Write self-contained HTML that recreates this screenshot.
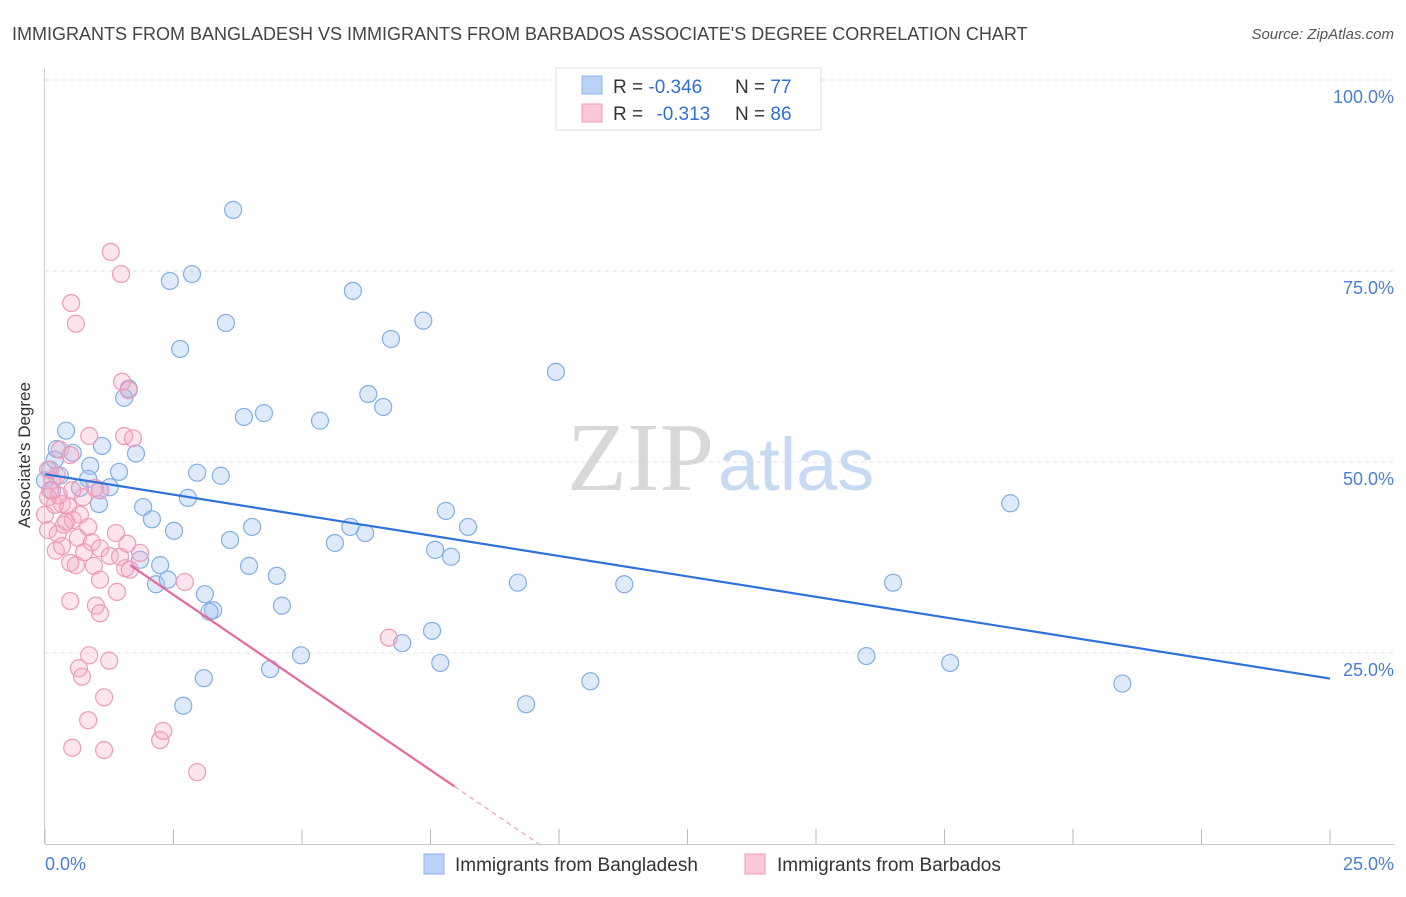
<!DOCTYPE html>
<html><head><meta charset="utf-8">
<style>
body{margin:0;background:#fff;font-family:"Liberation Sans",sans-serif;}
svg text{font-family:"Liberation Sans",sans-serif;}
</style></head>
<body>
<svg id="chart" width="1406" height="892" xmlns="http://www.w3.org/2000/svg">
<text x="12" y="40" font-size="18" fill="#444">IMMIGRANTS FROM BANGLADESH VS IMMIGRANTS FROM BARBADOS ASSOCIATE'S DEGREE CORRELATION CHART</text>
<text x="1394" y="39" font-size="15" fill="#555" text-anchor="end" font-style="italic">Source: ZipAtlas.com</text>
<g id="grid"></g>
<text x="714" y="490" font-size="98" fill="#d8d8d8" text-anchor="end" style="font-family:'Liberation Serif',serif">ZIP</text>
<text x="718" y="490" font-size="74" fill="#c8daf2">atlas</text>
<g id="pts"></g>
<g id="trend"></g>
<text x="30" y="455" font-size="17" fill="#333" text-anchor="middle" transform="rotate(-90 30 455)">Associate's Degree</text>
<text x="45" y="870" font-size="18" fill="#4a7fd6">0.0%</text>
<text x="1394" y="870" font-size="18" fill="#4a7fd6" text-anchor="end">25.0%</text>
<g>
<rect x="556" y="68" width="265" height="62" fill="#fff" stroke="#ddd"/>
<rect x="582" y="76" width="20" height="18" fill="#b9d2f5" stroke="#8ab4e8"/>
<rect x="582" y="104" width="20" height="18" fill="#fbc8d8" stroke="#f09ab8"/>
<text x="613" y="93" font-size="19" fill="#333">R = <tspan fill="#2f6fd6">-0.346</tspan><tspan x="735">N = </tspan><tspan fill="#2f6fd6">77</tspan></text>
<text x="613" y="120" font-size="19" fill="#333">R = <tspan fill="#2f6fd6" dx="8">-0.313</tspan><tspan x="735">N = </tspan><tspan fill="#2f6fd6">86</tspan></text>
</g>
<g>
<rect x="424" y="854" width="20" height="20" fill="#b9d2f5" stroke="#8ab4e8"/>
<text x="455" y="871" font-size="19" fill="#333">Immigrants from Bangladesh</text>
<rect x="745" y="854" width="20" height="20" fill="#fbc8d8" stroke="#f09ab8"/>
<text x="777" y="871" font-size="19" fill="#333">Immigrants from Barbados</text>
</g>
</svg>
<script>
const yTicks=[100,75,50,25];
const yTickLabels=["100.0%","75.0%","50.0%","25.0%"];
const xTicks=[0,2.5,5,7.5,10,12.5,15,17.5,20,22.5,25];
const blueX=[3.66,2.43,2.86,5.99,3.52,7.36,2.63,6.73,9.94,1.63,1.54,6.29,6.58,4.26,3.87,5.35,0.41,1.11,0.23,1.77,0.54,0.88,1.44,2.96,3.42,0.84,1.26,1.05,1.91,2.78,2.08,2.51,3.60,4.03,5.64,5.94,6.23,7.80,8.23,7.59,7.90,3.97,4.51,2.24,2.16,2.39,3.11,3.27,4.61,9.20,11.27,16.50,18.78,7.53,6.95,4.98,4.38,7.69,10.61,15.98,17.61,20.96,9.36,3.09,2.69,0.0,0.1,0.19,0.29,0.68,1.07,1.85,0.14,3.2];
const blueY=[83.0,73.7,74.6,72.4,68.2,68.5,64.8,66.1,61.8,59.6,58.4,58.9,57.2,56.4,55.9,55.4,54.1,52.1,51.7,51.1,51.2,49.5,48.7,48.6,48.2,47.8,46.7,44.5,44.1,45.3,42.5,41.0,39.8,41.5,39.4,41.5,40.7,43.6,41.5,38.5,37.6,36.4,35.1,36.5,34.0,34.6,32.7,30.6,31.2,34.2,34.0,34.2,44.6,27.9,26.3,24.7,22.9,23.7,21.3,24.6,23.7,21.0,18.3,21.7,18.1,47.6,49.0,50.3,48.2,46.6,46.3,37.2,46.3,30.4];
const pinkX=[1.28,1.48,0.51,0.60,1.50,1.63,0.86,1.54,1.71,0.29,0.49,0.06,0.14,0.23,0.97,1.07,0.74,0.06,0.19,0.33,0.45,0.54,0.37,0.84,0.06,0.25,0.64,0.91,1.38,1.07,1.60,0.76,0.49,1.26,1.46,1.85,1.56,1.65,0.95,0.60,1.07,1.40,0.49,0.99,1.07,0.21,0.33,0.86,1.25,0.66,0.72,1.15,0.84,0.53,1.15,2.24,2.30,2.96,2.72,6.69,0.41,0.27,0.68,0.0,0.1,0.53];
const pinkY=[77.5,74.6,70.8,68.1,60.5,59.4,53.4,53.4,53.1,51.6,50.9,49.0,47.6,48.2,46.6,46.3,45.4,45.4,44.4,44.5,44.2,42.4,41.8,41.5,41.1,40.6,40.1,39.5,40.7,38.7,39.3,38.2,36.8,37.7,37.6,38.1,36.1,35.9,36.4,36.5,34.6,33.0,31.8,31.2,30.2,38.4,39.0,24.7,24.0,23.0,21.9,19.2,16.2,12.6,12.3,13.6,14.8,9.4,34.3,27.0,42.2,45.6,43.1,43.1,46.3,46.3];
const blueTrend=[48.4,-1.07];
const pinkTrend=[44.1,-4.59];
const pinkSolidEnd=7.97;

const NS="http://www.w3.org/2000/svg";
const X=v=>45+v*51.4;
const Y=v=>844-v*7.64;
function mk(tag,attrs,parent){const e=document.createElementNS(NS,tag);for(const k in attrs)e.setAttribute(k,attrs[k]);parent.appendChild(e);return e;}
const grid=document.getElementById('grid');
yTicks.forEach((t,i)=>{
 const l=mk('line',{x1:45,x2:1394,y1:Y(t),y2:Y(t),stroke:'#e2e2e2','stroke-dasharray':'4,4'},grid);
 
 
 const tx=mk('text',{x:1394,y:Y(t)+23,'font-size':18,fill:'#4a7fd6','text-anchor':'end'},grid);
 tx.textContent=yTickLabels[i];
 
 
});
const ax=mk('line',{x1:45,x2:1394,y1:844.5,y2:844.5,stroke:'#ccc'},grid);


const ay=mk('line',{x1:44.5,x2:44.5,y1:68,y2:844,stroke:'#ccc'},grid);


xTicks.forEach(t=>{
 const l=mk('line',{x1:X(t),x2:X(t),y1:829,y2:844,stroke:'#bbb'},grid);
 
 
});
const pts=document.getElementById('pts');
blueX.forEach((v,i)=>{
 const c=mk('circle',{cx:X(v),cy:Y(blueY[i]),r:8.5,fill:'rgba(160,196,240,0.35)',stroke:'#82aee6','stroke-width':1.2},pts);
 
 
});
pinkX.forEach((v,i)=>{
 const c=mk('circle',{cx:X(v),cy:Y(pinkY[i]),r:8.5,fill:'rgba(245,170,195,0.3)',stroke:'#f09ab8','stroke-width':1.2},pts);
 
 
});
const tr=document.getElementById('trend');
const bl=mk('line',{x1:X(0),y1:Y(blueTrend[0]),x2:X(25),y2:Y(blueTrend[0]+blueTrend[1]*25),stroke:'#2f72d8','stroke-width':2.2},tr);


const pl=mk('line',{x1:X(1.66),y1:Y(pinkTrend[0]+pinkTrend[1]*1.66),x2:X(pinkSolidEnd),y2:Y(pinkTrend[0]+pinkTrend[1]*pinkSolidEnd),stroke:'#e8689a','stroke-width':2.2},tr);


const x0=-pinkTrend[0]/pinkTrend[1];
const pd=mk('line',{x1:X(pinkSolidEnd),y1:Y(pinkTrend[0]+pinkTrend[1]*pinkSolidEnd),x2:X(x0),y2:Y(0),stroke:'#f0a0bc','stroke-width':1.2,'stroke-dasharray':'5,4'},tr);


</script>
</body></html>
